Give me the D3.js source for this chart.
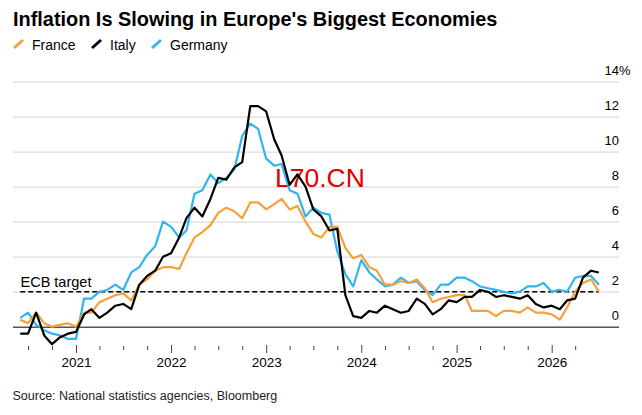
<!DOCTYPE html>
<html>
<head>
<meta charset="utf-8">
<script src="https://cdn.jsdelivr.net/npm/d3@7"></script>
<style>
  body { margin: 0; background: #fff; }
  svg { font-family: "Liberation Sans", Arial, sans-serif; }
</style>
</head>
<body>
<div id="chart"></div>
<script>
// Monthly readings, May 2020 - Jun 2026
var months = [
  "2020-05","2020-06","2020-07","2020-08","2020-09","2020-10","2020-11","2020-12",
  "2021-01","2021-02","2021-03","2021-04","2021-05","2021-06","2021-07","2021-08","2021-09","2021-10","2021-11","2021-12",
  "2022-01","2022-02","2022-03","2022-04","2022-05","2022-06","2022-07","2022-08","2022-09","2022-10","2022-11","2022-12",
  "2023-01","2023-02","2023-03","2023-04","2023-05","2023-06","2023-07","2023-08","2023-09","2023-10","2023-11","2023-12",
  "2024-01","2024-02","2024-03","2024-04","2024-05","2024-06","2024-07","2024-08","2024-09","2024-10","2024-11","2024-12",
  "2025-01","2025-02","2025-03","2025-04","2025-05","2025-06","2025-07","2025-08","2025-09","2025-10","2025-11","2025-12",
  "2026-01","2026-02","2026-03","2026-04","2026-05","2026-06"
];

var france = [
  0.4, 0.2, 0.8, 0.2, 0.0, 0.1, 0.2, 0.0,
  0.8, 0.8, 1.4, 1.6, 1.8, 1.9, 1.5, 2.4, 2.7, 3.2, 3.4, 3.4,
  3.3, 4.2, 5.1, 5.4, 5.8, 6.5, 6.8, 6.6, 6.2, 7.1, 7.1, 6.7,
  7.0, 7.3, 6.7, 6.9, 6.0, 5.3, 5.1, 5.7, 5.7, 4.5, 3.9, 4.1,
  3.4, 3.2, 2.4, 2.4, 2.6, 2.5, 2.7, 2.2, 1.4, 1.6, 1.7, 1.8,
  1.8, 0.9, 0.9, 0.9, 0.6, 0.9, 0.9, 0.8, 1.1, 0.8, 0.8, 0.7,
  0.4, 1.1, 2.0, 2.5, 2.7, 2.0
];

var italy = [
  -0.4, -0.4, 0.8, -0.5, -1.0, -0.6, -0.4, -0.3,
  0.7, 1.0, 0.5, 0.8, 1.2, 1.3, 1.0, 2.4, 2.9, 3.2, 4.0, 4.2,
  5.1, 6.2, 6.8, 6.3, 7.3, 8.5, 8.4, 9.1, 9.4, 12.6, 12.6, 12.3,
  10.7, 9.8, 8.1, 8.7, 8.0, 6.7, 6.3, 5.5, 5.6, 1.8, 0.6, 0.5,
  0.9, 0.8, 1.2, 1.0, 0.8, 0.9, 1.6, 1.3, 0.7, 1.0, 1.5, 1.4,
  1.7, 1.7, 2.1, 2.0, 1.7, 1.8, 1.7, 1.6, 1.8, 1.3, 1.1, 1.2,
  1.0, 1.5, 1.6, 2.8, 3.2, 3.1
];

var germany = [
  0.5, 0.8, 0.1, -0.2, -0.4, -0.5, -0.7, -0.7,
  1.6, 1.6, 2.0, 2.1, 2.4, 2.1, 3.1, 3.4, 4.1, 4.6, 6.0, 5.7,
  5.1, 5.5, 7.6, 7.8, 8.7, 8.2, 8.5, 9.0, 10.9, 11.6, 11.3, 9.6,
  9.2, 9.3, 7.8, 7.6, 6.3, 6.8, 6.5, 6.4, 4.3, 3.0, 2.3, 3.8,
  3.1, 2.7, 2.3, 2.4, 2.8, 2.5, 2.6, 2.1, 1.8, 2.4, 2.4, 2.8,
  2.8, 2.6, 2.3, 2.2, 2.1, 2.0, 1.9, 2.0, 2.3, 2.3, 2.5, 2.0,
  2.1, 2.0, 2.8, 2.9, 2.9, 2.4
];

var seriesNames = ["France", "Italy", "Germany"];
var yTicks = [0, 2, 4, 6, 8, 10, 12, 14];
var ecbTarget = 2;

var svgWidth = 642;
var svgHeight = 415;
var colors = { France: "#f7a03a", Italy: "#000000", Germany: "#31b4ef" };

var svg = d3.select("#chart")
  .append("svg")
  .attr("width", svgWidth)
  .attr("height", svgHeight);

var parseMonth = d3.timeParse("%Y-%m");
// points sit at the end of their month
var dates = months.map(m => d3.timeMonth.offset(parseMonth(m), 1));

var x = d3.scaleTime()
  .domain([new Date(2021, 0, 1), new Date(2026, 0, 1)])
  .range([76, 551.7]);

var y = d3.scaleLinear()
  .domain([0, 14])
  .range([326.7, 81.7]);

// Title + legend
svg.append("text")
  .attr("x", 13)
  .attr("y", 26)
  .attr("font-size", 19.9)
  .attr("font-weight", "bold")
  .attr("fill", "#000")
  .text("Inflation Is Slowing in Europe's Biggest Economies");

var legendX = [13, 91, 151];
var legend = svg.selectAll(".legend")
  .data(seriesNames)
  .enter()
  .append("g")
  .attr("transform", (d, i) => `translate(${legendX[i]}, 0)`);

legend.append("line")
  .attr("x1", 1).attr("y1", 48)
  .attr("x2", 10).attr("y2", 40)
  .attr("stroke", d => colors[d])
  .attr("stroke-width", 3);

legend.append("text")
  .attr("x", 19)
  .attr("y", 49.5)
  .attr("font-size", 14)
  .text(d => d);

// Y axis with gridlines
var yAxis = d3.axisRight(y)
  .tickValues(yTicks)
  .tickSize(606)
  .tickFormat(d => d);

var yAxisG = svg.append("g")
  .attr("transform", "translate(13, 0)")
  .call(yAxis);

yAxisG.select(".domain").remove();
yAxisG.selectAll(".tick line")
  .attr("stroke", d => d === 0 ? "#555" : "#dcdcdc")
  .attr("stroke-width", d => d === 0 ? 1.5 : 1.2);
yAxisG.selectAll(".tick text")
  .attr("x", 606)
  .attr("y", -7)
  .attr("dy", 0)
  .attr("text-anchor", "end")
  .attr("font-size", 13)
  .attr("fill", "#000");

svg.append("text")
  .attr("x", 619)
  .attr("y", y(14) - 7)
  .attr("font-size", 13)
  .text("%");

// X axis
var xTicks = d3.timeMonth.range(new Date(2020, 6, 1), new Date(2026, 4, 2), 3);
var xAxis = d3.axisBottom(x)
  .tickValues(xTicks)
  .tickSize(4)
  .tickFormat(d => d.getMonth() === 0 ? d3.timeFormat("%Y")(d) : "");

var xAxisG = svg.append("g")
  .attr("transform", "translate(0, 346)")
  .call(xAxis);

xAxisG.select(".domain").remove();
xAxisG.selectAll(".tick line")
  .attr("stroke", "#444")
  .attr("y1", d => d.getMonth() === 0 ? -1 : 0)
  .attr("y2", d => d.getMonth() === 0 ? 7 : 4);
xAxisG.selectAll(".tick text")
  .attr("y", 21)
  .attr("dy", 0)
  .attr("font-size", 13.5)
  .attr("fill", "#000");

// ECB target
svg.append("line")
  .attr("x1", x(dates[0]))
  .attr("x2", x(dates[dates.length - 1]))
  .attr("y1", y(ecbTarget))
  .attr("y2", y(ecbTarget))
  .attr("stroke", "#000")
  .attr("stroke-width", 1.6)
  .attr("stroke-dasharray", "5,3");

svg.append("text")
  .attr("x", 20.5)
  .attr("y", 287)
  .attr("font-size", 14.5)
  .text("ECB target");

// watermark
svg.append("text")
  .attr("x", 275)
  .attr("y", 187)
  .attr("font-size", 26.5)
  .attr("fill", "#e00000")
  .text("L70.CN");

// Lines
var line = d3.line()
  .x((d, i) => x(dates[i]))
  .y(d => y(d));

var seriesData = [
  { name: "Germany", values: germany },
  { name: "France", values: france },
  { name: "Italy", values: italy }
];

svg.selectAll(".series")
  .data(seriesData)
  .enter()
  .append("path")
  .attr("class", "series")
  .attr("d", d => line(d.values))
  .attr("fill", "none")
  .attr("stroke", d => colors[d.name])
  .attr("stroke-width", 2.2)
  .attr("stroke-linejoin", "round");

// Source
svg.append("text")
  .attr("x", 12.5)
  .attr("y", 400)
  .attr("font-size", 12.5)
  .attr("fill", "#222")
  .text("Source: National statistics agencies, Bloomberg");
</script>
</body>
</html>
